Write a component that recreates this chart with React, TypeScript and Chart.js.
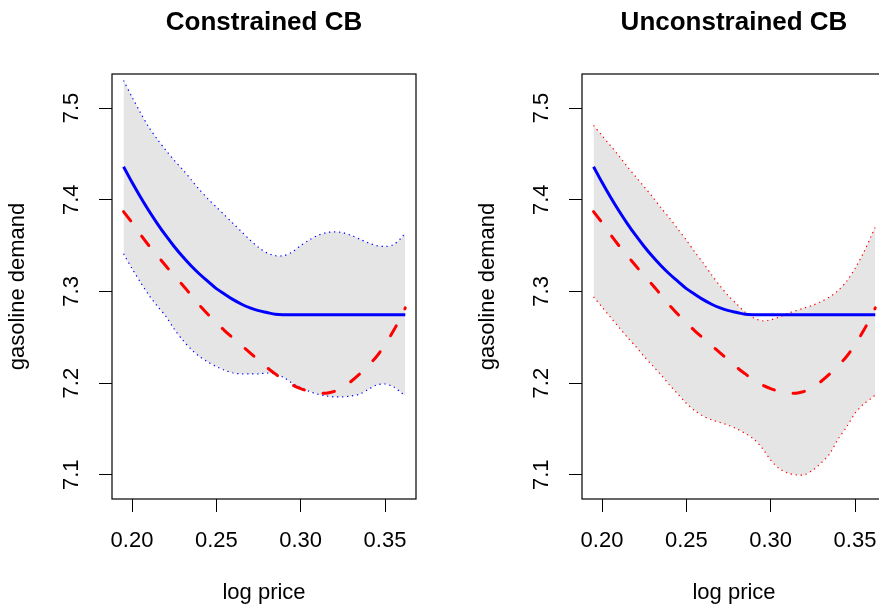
import React, { useEffect, useRef } from "react";
import { Chart, registerables } from "chart.js";

Chart.register(...registerables);

// ---- data ----
const logPrice = [
  0.195, 0.2, 0.205, 0.21, 0.215, 0.22, 0.225, 0.23, 0.235, 0.24, 0.245, 0.25,
  0.255, 0.26, 0.265, 0.27, 0.275, 0.28, 0.285, 0.29, 0.295, 0.3, 0.305, 0.31,
  0.315, 0.32, 0.325, 0.33, 0.335, 0.34, 0.345, 0.35, 0.355, 0.36, 0.362,
];

// constrained estimate (solid blue)
const constrainedFit = [
  7.436, 7.419, 7.403, 7.388, 7.374, 7.361, 7.349, 7.338, 7.328, 7.319, 7.311,
  7.303, 7.297, 7.291, 7.286, 7.282, 7.279, 7.277, 7.275, 7.2745, 7.2745,
  7.2745, 7.2745, 7.2745, 7.2745, 7.2745, 7.2745, 7.2745, 7.2745, 7.2745,
  7.2745, 7.2745, 7.2745, 7.2745, 7.2745,
];

// unconstrained estimate (dashed red)
const unconstrainedFit = [
  7.387, 7.375, 7.362, 7.35, 7.339, 7.328, 7.317, 7.307, 7.296, 7.285, 7.275,
  7.266, 7.257, 7.249, 7.241, 7.233, 7.225, 7.217, 7.21, 7.203, 7.198, 7.194,
  7.191, 7.189, 7.189, 7.191, 7.195, 7.202, 7.21, 7.219, 7.229, 7.242, 7.257,
  7.274, 7.282,
];

// constrained confidence band
const constrainedUpper = [
  7.53, 7.512, 7.495, 7.479, 7.466, 7.454, 7.443, 7.433, 7.422, 7.411, 7.401,
  7.392, 7.383, 7.374, 7.365, 7.356, 7.348, 7.342, 7.339, 7.339, 7.343, 7.35,
  7.356, 7.361, 7.364, 7.365, 7.364, 7.361, 7.357, 7.353, 7.35, 7.349, 7.351,
  7.359, 7.364,
];
const constrainedLower = [
  7.341, 7.325, 7.31, 7.296, 7.284, 7.273, 7.259, 7.247, 7.237, 7.229, 7.223,
  7.218, 7.214, 7.211, 7.21, 7.21, 7.21, 7.211, 7.21, 7.206, 7.2, 7.195, 7.191,
  7.188, 7.186, 7.185, 7.185, 7.186, 7.188, 7.193, 7.198, 7.199, 7.196, 7.189,
  7.186,
];

// unconstrained confidence band
const unconstrainedUpper = [
  7.481, 7.47, 7.459, 7.448, 7.436, 7.425, 7.414, 7.403, 7.391, 7.38, 7.368,
  7.356, 7.343, 7.331, 7.318, 7.306, 7.295, 7.286, 7.277, 7.271, 7.268, 7.269,
  7.272, 7.276, 7.279, 7.282, 7.285, 7.289, 7.294, 7.301, 7.311, 7.325, 7.342,
  7.362, 7.37,
];
const unconstrainedLower = [
  7.294, 7.283, 7.272, 7.261, 7.25, 7.24, 7.229, 7.219, 7.209, 7.198, 7.188,
  7.178, 7.17, 7.164, 7.16, 7.157, 7.154, 7.15, 7.145, 7.139, 7.129, 7.116,
  7.107, 7.102, 7.1, 7.1, 7.105, 7.113, 7.123, 7.139, 7.152, 7.167, 7.177,
  7.184, 7.187,
];

const xTicks = [0.2, 0.25, 0.3, 0.35];
const yTicks = [7.1, 7.2, 7.3, 7.4, 7.5];
const panelTitles = ["Constrained CB", "Unconstrained CB"];
const xLabel = "log price";
const yLabel = "gasoline demand";

const X_MIN = 0.18814;
const X_MAX = 0.36837;
const Y_MIN = 7.0736;
const Y_MAX = 7.5371;

// ---- styling ----
const FONT = '"Liberation Sans", Arial, Helvetica, sans-serif';
const CANVAS_W = 440;
const CANVAS_H = 606;

const panelTitlePlugin = {
  id: "panelTitle",
  afterDraw(chart: any, _args: any, opts: any) {
    const { ctx, chartArea } = chart;
    ctx.save();
    ctx.font = `bold 26px ${FONT}`;
    ctx.fillStyle = "#000";
    ctx.textAlign = "center";
    ctx.textBaseline = "alphabetic";
    ctx.fillText(opts.text, (chartArea.left + chartArea.right) / 2, 30);
    ctx.restore();
  },
};

const boxPlugin = {
  id: "plotBox",
  afterDraw(chart: any) {
    const { ctx, chartArea } = chart;
    ctx.save();
    ctx.strokeStyle = "#000";
    ctx.lineWidth = 1.2;
    ctx.strokeRect(
      chartArea.left,
      chartArea.top,
      chartArea.right - chartArea.left,
      chartArea.bottom - chartArea.top
    );
    ctx.restore();
  },
};

function pts(ys: number[]) {
  return logPrice.map((x, i) => ({ x, y: ys[i] }));
}

function makeConfig(
  title: string,
  upper: number[],
  lower: number[],
  bandColor: string
): any {
  const tickFont = { family: FONT, size: 22 };
  const grid = {
    display: true,
    drawOnChartArea: false,
    drawTicks: true,
    tickLength: 13,
    color: "#000",
    lineWidth: 1,
  };
  return {
    type: "line",
    data: {
      datasets: [
        {
          label: "unconstrained",
          data: pts(unconstrainedFit),
          borderColor: "#FF0000",
          borderWidth: 3,
          borderDash: [11.6, 19],
          borderCapStyle: "round",
          pointRadius: 0,
          fill: false,
          tension: 0.3,
          order: 0,
        },
        {
          label: "constrained",
          data: pts(constrainedFit),
          borderColor: "#0000FF",
          borderWidth: 3,
          pointRadius: 0,
          fill: false,
          tension: 0.3,
          order: 1,
        },
        {
          label: "upper",
          data: pts(upper),
          borderColor: bandColor,
          borderWidth: 1.2,
          borderDash: [1.3, 3.7],
          pointRadius: 0,
          fill: "+1",
          backgroundColor: "#E5E5E5",
          tension: 0.3,
          order: 2,
        },
        {
          label: "lower",
          data: pts(lower),
          borderColor: bandColor,
          borderWidth: 1.2,
          borderDash: [1.3, 3.7],
          pointRadius: 0,
          fill: false,
          tension: 0.3,
          order: 3,
        },
      ],
    },
    options: {
      animation: false,
      responsive: false,
      events: [],
      layout: { padding: { top: 74, right: 24, left: 0, bottom: 0 } },
      plugins: {
        legend: { display: false },
        tooltip: { enabled: false },
        title: { display: false },
        filler: { drawTime: "beforeDatasetsDraw" },
        panelTitle: { text: title },
      },
      scales: {
        x: {
          type: "linear",
          min: X_MIN,
          max: X_MAX,
          afterBuildTicks: (s: any) => {
            s.ticks = xTicks.map((v) => ({ value: v }));
          },
          afterFit: (s: any) => {
            s.height = CANVAS_H - 499;
          },
          ticks: {
            callback: (v: any) => Number(v).toFixed(2),
            font: tickFont,
            color: "#000",
            padding: 15.5,
            autoSkip: false,
            minRotation: 0,
            maxRotation: 0,
          },
          grid,
          border: { display: false },
          title: {
            display: true,
            text: xLabel,
            font: tickFont,
            color: "#000",
            padding: { top: 0, bottom: 0 },
          },
        },
        y: {
          type: "linear",
          min: Y_MIN,
          max: Y_MAX,
          afterBuildTicks: (s: any) => {
            s.ticks = yTicks.map((v) => ({ value: v }));
          },
          afterFit: (s: any) => {
            s.width = 112;
          },
          ticks: {
            callback: (v: any) => Number(v).toFixed(1),
            font: tickFont,
            color: "#000",
            padding: 11.7,
            autoSkip: false,
            minRotation: 90,
            maxRotation: 90,
            crossAlign: "center",
          },
          grid,
          border: { display: false },
          title: {
            display: true,
            text: yLabel,
            font: tickFont,
            color: "#000",
            padding: { top: 5, bottom: 0 },
          },
        },
      },
    },
    plugins: [panelTitlePlugin, boxPlugin],
  };
}

function Panel(props: {
  left: number;
  title: string;
  upper: number[];
  lower: number[];
  bandColor: string;
}) {
  const ref = useRef<HTMLCanvasElement | null>(null);
  useEffect(() => {
    if (!ref.current) return;
    const chart = new Chart(
      ref.current,
      makeConfig(props.title, props.upper, props.lower, props.bandColor)
    );
    return () => chart.destroy();
  }, []);
  return (
    <canvas
      ref={ref}
      width={CANVAS_W}
      height={CANVAS_H}
      style={{
        position: "absolute",
        left: props.left,
        top: 0,
        width: CANVAS_W,
        height: CANVAS_H,
      }}
    />
  );
}

export default function App() {
  return (
    <div
      style={{
        position: "fixed",
        left: 0,
        top: 0,
        width: 879,
        height: 606,
        overflow: "hidden",
        background: "#fff",
      }}
    >
      <Panel
        left={0}
        title={panelTitles[0]}
        upper={constrainedUpper}
        lower={constrainedLower}
        bandColor="#0000FF"
      />
      <Panel
        left={470}
        title={panelTitles[1]}
        upper={unconstrainedUpper}
        lower={unconstrainedLower}
        bandColor="#FF0000"
      />
    </div>
  );
}
